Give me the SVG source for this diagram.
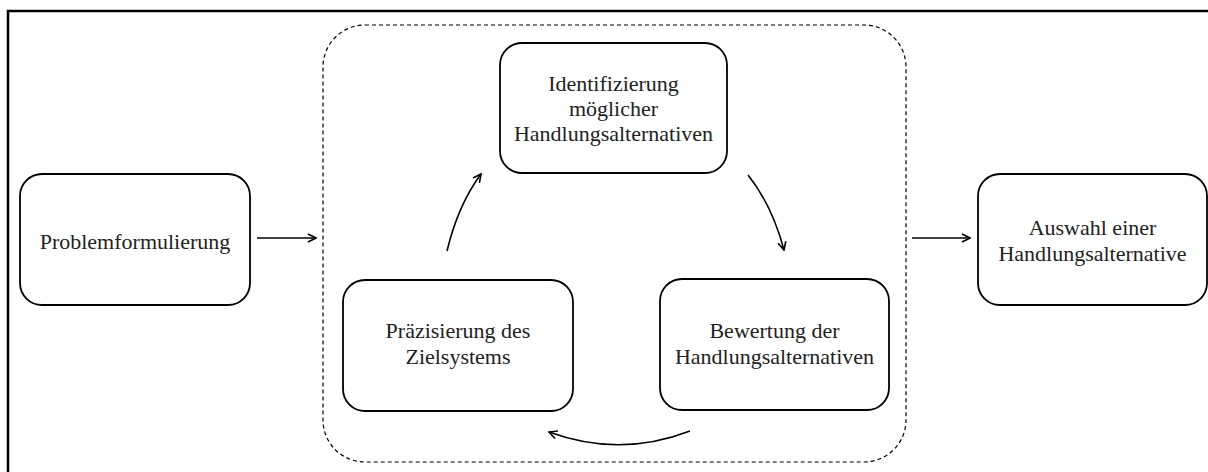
<svg xmlns="http://www.w3.org/2000/svg" width="1208" height="472" viewBox="0 0 1208 472">
<defs>
<marker id="arr" viewBox="0 0 10 10" refX="9" refY="5" markerWidth="10" markerHeight="10" markerUnits="userSpaceOnUse" orient="auto">
<path d="M1,1 L9,5 L1,9" fill="none" stroke="#000" stroke-width="1.6"/>
</marker>
</defs>
<style>
.box{fill:#fff;stroke:#000;stroke-width:1.8}
.t{font-family:"Liberation Serif","Times New Roman",serif;font-size:22px;fill:#222;text-anchor:middle}
.c{fill:none;stroke:#000;stroke-width:1.6;marker-end:url(#arr)}
</style>
<rect x="0" y="0" width="1208" height="472" fill="#fff"/>
<rect id="frame" x="8" y="11" width="1215" height="475" fill="none" stroke="#000" stroke-width="2.5"/>
<rect id="cycle" x="323" y="25" width="583" height="437" rx="42" ry="42" fill="none" stroke="#000" stroke-width="1.2" stroke-dasharray="4,3"/>
<g id="connectors">
<path class="c" d="M257,238 L316,238"/>
<path class="c" d="M912,238 L970,238"/>
<path class="c" d="M447,251 Q458,205 481,174"/>
<path class="c" d="M748,175 Q772,205 784,250"/>
<path class="c" d="M690,431 Q620,458 549,432"/>
</g>
<g id="problem">
<rect class="box" x="20" y="174" width="230" height="131" rx="22"/>
<text class="t" x="135" y="249">Problemformulierung</text>
</g>
<g id="identifizierung">
<rect class="box" x="500" y="43" width="227" height="130" rx="22"/>
<text class="t" x="613.5" y="91">Identifizierung</text>
<text class="t" x="613.5" y="116">möglicher</text>
<text class="t" x="613.5" y="141">Handlungsalternativen</text>
</g>
<g id="praezisierung">
<rect class="box" x="343" y="280" width="230" height="131" rx="22"/>
<text class="t" x="458" y="338">Präzisierung des</text>
<text class="t" x="458" y="364">Zielsystems</text>
</g>
<g id="bewertung">
<rect class="box" x="660" y="279" width="229" height="131" rx="22"/>
<text class="t" x="774.5" y="338">Bewertung der</text>
<text class="t" x="774.5" y="364">Handlungsalternativen</text>
</g>
<g id="auswahl">
<rect class="box" x="978" y="174" width="229" height="131" rx="22"/>
<text class="t" x="1092.5" y="235">Auswahl einer</text>
<text class="t" x="1092.5" y="261">Handlungsalternative</text>
</g>
</svg>
